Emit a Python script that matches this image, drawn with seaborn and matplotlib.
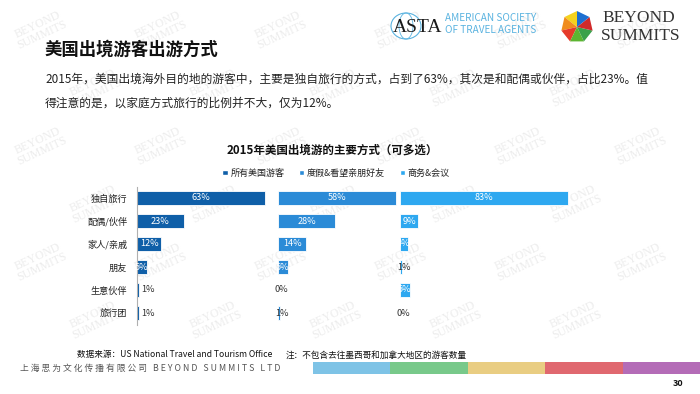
import numpy as np
import pandas as pd
import matplotlib
matplotlib.use("Agg")
import matplotlib.pyplot as plt
from matplotlib.patches import Rectangle, Polygon, Ellipse
import seaborn as sns

sns.set_style("white")
plt.rcParams['font.family'] = ['Noto Sans CJK SC', 'DejaVu Sans']

# data (percent)
categories = ['独自旅行', '配偶/伙伴', '家人/亲戚', '朋友', '生意伙伴', '旅行团']
groups = ['所有美国游客', '度假&看望亲朋好友', '商务&会议']
all_travelers = [63, 23, 12, 5, 1, 1]
leisure_vfr = [58, 28, 14, 5, 0, 1]
business = [83, 9, 4, 1, 5, 0]
colors = ['#0f5fa8', '#2b8bd7', '#2ea8f0']

rows = []
for g, vals in zip(groups, [all_travelers, leisure_vfr, business]):
    for c, v in zip(categories, vals):
        rows.append({'组': g, '方式': c, '占比': v})
df = pd.DataFrame(rows)

W, H = 700, 394
fig = plt.figure(figsize=(W / 100, H / 100), dpi=100)
fig.patch.set_facecolor('white')


def fx(x):
    return x / W


def fy(y):
    return 1 - y / H


# faint background watermark, kept behind everything
for j, yy in enumerate(range(30, 370, 58)):
    for xx in range(40, 660, 120):
        x0 = xx + (j % 2) * 55
        if x0 > 650:
            continue
        fig.text(fx(x0), fy(yy), 'BEYOND\nSUMMITS', family='Liberation Serif', fontsize=8.5,
                 color='#ececec', rotation=25, ha='center', va='center', linespacing=0.9, zorder=-5)

# title and intro text
fig.text(fx(45), fy(50), '美国出境游客出游方式', fontsize=12.5, fontweight='bold', color='#111111', va='center')
fig.text(fx(45), fy(79), '2015年，美国出境海外目的地的游客中，主要是独自旅行的方式，占到了63%，其次是和配偶或伙伴，占比23%。值',
         fontsize=8.45, color='#222222', va='center')
fig.text(fx(45), fy(103), '得注意的是，以家庭方式旅行的比例并不大，仅为12%。', fontsize=8.45, color='#222222', va='center')

# logos (approximation)
fig.patches.append(Ellipse((fx(406), fy(26)), 30 / W, 26 / H, transform=fig.transFigure,
                           facecolor='white', edgecolor='#5ab3e0', lw=0.8, zorder=2))
fig.patches.append(Ellipse((fx(406), fy(26)), 14 / W, 26 / H, transform=fig.transFigure,
                           facecolor='none', edgecolor='#5ab3e0', lw=0.6, zorder=2))
fig.text(fx(418), fy(27), 'ASTA', family='Liberation Serif', fontsize=14, color='#1a1a1a',
         ha='center', va='center', zorder=3)
fig.text(fx(445), fy(18), 'AMERICAN SOCIETY', fontsize=7.2, color='#5ab3e0', va='center')
fig.text(fx(445), fy(30), 'OF TRAVEL AGENTS', fontsize=7.2, color='#5ab3e0', va='center')
cx, cy, r = 577, 27, 16
ang = np.deg2rad(90 + np.arange(8) * 360 / 7)
tri_cols = ['#f5d21e', '#f08c1e', '#e63b2a', '#5cb531', '#3aa14a', '#d12a2a', '#1e6fd0']
for k in range(7):
    pts = [(fx(cx), fy(cy)),
           (fx(cx + r * np.cos(ang[k])), fy(cy - r * np.sin(ang[k]))),
           (fx(cx + r * np.cos(ang[k + 1])), fy(cy - r * np.sin(ang[k + 1])))]
    fig.patches.append(Polygon(pts, closed=True, transform=fig.transFigure,
                               facecolor=tri_cols[k], edgecolor='none', zorder=2))
fig.text(fx(602), fy(18), 'BEYOND', family='Liberation Serif', fontsize=12.5, color='#333333', va='center')
fig.text(fx(601), fy(36), 'SUMMITS', family='Liberation Serif', fontsize=12.5, color='#333333', va='center')

# chart title & legend
fig.text(fx(332), fy(150), '2015年美国出境游的主要方式（可多选）', fontsize=8.3, fontweight='bold',
         color='#111111', ha='center', va='center')
handles = [Rectangle((0, 0), 1, 1, facecolor=c) for c in colors]
fig.legend(handles, groups, loc='center', bbox_to_anchor=(fx(336), fy(173)), ncol=3, frameon=False,
           fontsize=6.5, handlelength=0.6, handleheight=0.6, handletextpad=0.3, columnspacing=1.6,
           labelcolor='#222222')

# three panels, same scale (about 2.03 px per percent)
scale = 2.03
starts = [137, 278, 400]
widths = [141, 122, 203]
label_offset = [5, 1.5, 1.5]
top, bottom = 186.5, 324.5
for k, g in enumerate(groups):
    ax = fig.add_axes([fx(starts[k]), fy(bottom), widths[k] / W, (bottom - top) / H])
    ax.patch.set_alpha(0)
    sub = df[df['组'] == g]
    sns.barplot(data=sub, x='占比', y='方式', order=categories, color=colors[k], saturation=1,
                width=0.57, edgecolor='white', linewidth=0.6, ax=ax)
    ax.set_xlim(0, widths[k] / scale)
    ax.set_ylim(5.5, -0.5)
    ax.set_xlabel('')
    ax.set_ylabel('')
    ax.set_xticks([])
    sns.despine(ax=ax, left=(k > 0), bottom=True)
    if k == 0:
        ax.spines['left'].set_color('#b0b0b0')
        ax.spines['left'].set_linewidth(0.8)
        ax.set_yticks(range(len(categories)))
        ax.set_yticklabels(categories, fontsize=6.6, color='#222222')
        ax.tick_params(axis='y', length=0, pad=7)
        ax.set_yticks(np.arange(-0.5, 6, 1), minor=True)
        ax.tick_params(axis='y', which='minor', length=3, color='#b0b0b0', width=0.8)
    else:
        ax.set_yticks([])
    for i, v in enumerate(sub['占比']):
        if v >= 4:
            ax.text(v / 2, i, f'{v}%', ha='center', va='center', fontsize=6.6, color='white')
        else:
            ax.text(v / 2 + label_offset[k], i, f'{v}%', ha='center', va='center', fontsize=6.6,
                    color='#333333')

# footer
fig.text(fx(77), fy(355), '数据来源：US National Travel and Tourism Office', fontsize=6.2, color='#111111',
         va='center', family=['Liberation Sans Narrow', 'Noto Sans CJK SC'])
fig.text(fx(286), fy(355), '注：不包含去往墨西哥和加拿大地区的游客数量', fontsize=6.2, color='#111111', va='center')
fig.text(fx(20), fy(368), '上 海 思 为 文 化 传 播 有 限 公 司   B E Y O N D   S U M M I T S   L T D',
         fontsize=6.3, color='#555555', va='center')
stripe_cols = ['#7ec3e6', '#78c98a', '#e9cd82', '#e0686f', '#b46cb7']
for k, c in enumerate(stripe_cols):
    fig.patches.append(Rectangle((fx(313 + k * 77.4), fy(374)), 77.4 / W, 12 / H, transform=fig.transFigure,
                                 facecolor=c, edgecolor='none', zorder=2))
fig.text(fx(678), fy(384), '30', fontsize=6.5, fontweight='bold', color='#111111', ha='center', va='center')

fig.savefig('out.png', dpi=100)
